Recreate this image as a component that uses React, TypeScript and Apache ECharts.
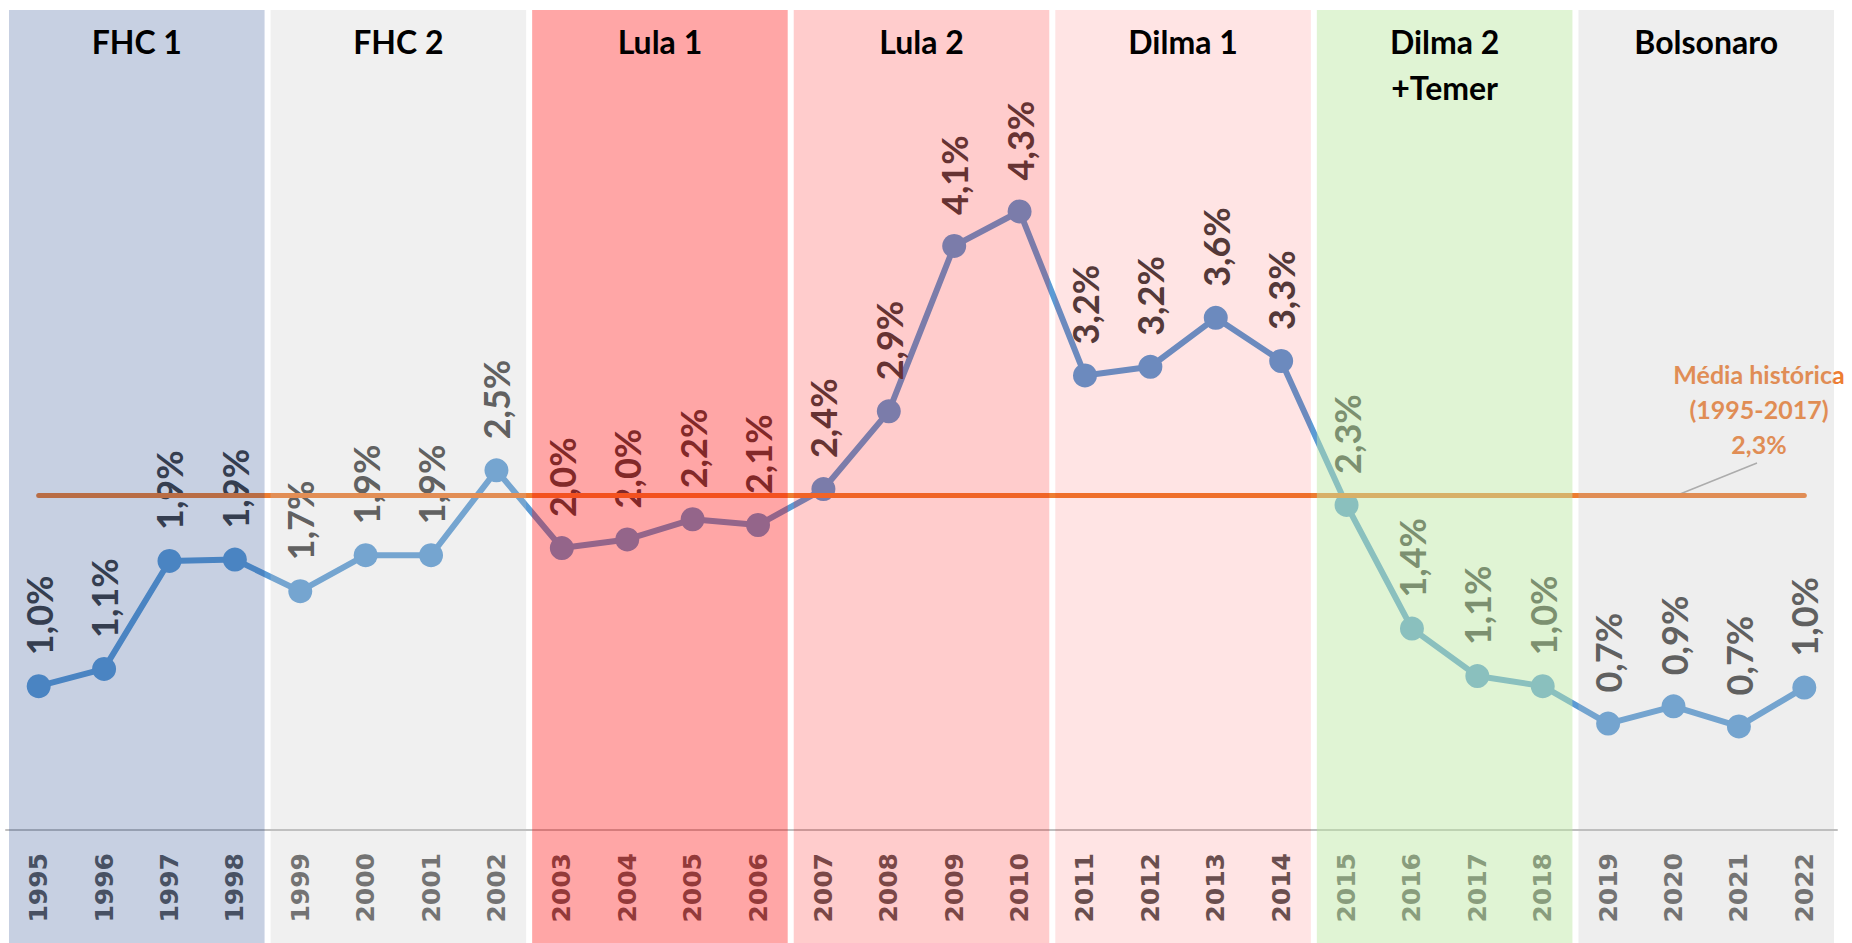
import React, { useEffect, useRef } from "react";
import * as echarts from "echarts";

const years = [
  "1995", "1996", "1997", "1998", "1999", "2000", "2001", "2002", "2003", "2004",
  "2005", "2006", "2007", "2008", "2009", "2010", "2011", "2012", "2013", "2014",
  "2015", "2016", "2017", "2018", "2019", "2020", "2021", "2022",
];
const growth = [
  1.0, 1.12, 1.87, 1.88, 1.66, 1.91, 1.91, 2.5, 1.96, 2.02,
  2.16, 2.12, 2.37, 2.91, 4.06, 4.3, 3.16, 3.22, 3.56, 3.26,
  2.26, 1.4, 1.07, 1.0, 0.74, 0.86, 0.72, 0.99,
];
const historicalMean = 2.33;
const meanLabel = "Média histórica\n(1995-2017)\n2,3%";
const terms = ["FHC 1", "FHC 2", "Lula 1", "Lula 2", "Dilma 1", "Dilma 2\n+Temer", "Bolsonaro"];
const termStart = [0, 4, 8, 12, 16, 20, 24];
const termEnd = [3, 7, 11, 15, 19, 23, 27];
const termColors = [
  "rgba(20,57,133,0.24)",
  "rgba(196,196,196,0.25)",
  "rgba(255,0,0,0.35)",
  "rgba(255,0,0,0.2)",
  "rgba(255,0,0,0.105)",
  "rgba(191,231,166,0.48)",
  "rgba(190,190,190,0.26)",
];

export default function App() {
  const ref = useRef<HTMLDivElement>(null);
  useEffect(() => {
    if (!ref.current) return;
    const chart = echarts.init(ref.current, null, { renderer: "svg" });
    const panelData = terms.map((_, i) => [termStart[i], termEnd[i], 0]);
    chart.setOption({
      animation: false,
      backgroundColor: "#ffffff",
      grid: { left: 6, right: 15, top: 10, bottom: 113, containLabel: false },
      xAxis: {
        type: "category",
        data: years,
        boundaryGap: true,
        axisTick: { show: false },
        axisLine: { lineStyle: { color: "#bfbfbf", width: 2 } },
        axisLabel: {
          rotate: 90,
          margin: 23,
          interval: 0,
          color: "#595959",
          fontFamily: "DejaVu Sans",
          fontWeight: "bold",
          fontSize: 25,
        },
      },
      yAxis: {
        type: "value",
        min: 0,
        max: 5.7,
        show: false,
        splitLine: { show: false },
      },
      graphic: {
        elements: [
          {
            type: "text",
            z: 1,
            x: 1759,
            y: 409,
            style: {
              text: meanLabel,
              fill: "#ed7d31",
              font: "bold 25px Lato",
              align: "center",
              verticalAlign: "middle",
              lineHeight: 35,
            },
          },
          {
            type: "line",
            z: 1,
            shape: { x1: 1757, y1: 463, x2: 1680, y2: 494 },
            style: { stroke: "#a6a6a6", lineWidth: 1.5 },
          },
        ],
      },
      series: [
        {
          type: "line",
          data: growth,
          z: 2,
          lineStyle: { color: "#5b9bd5", width: 6 },
          itemStyle: { color: "#5b9bd5" },
          symbol: "circle",
          symbolSize: 24,
          label: {
            show: true,
            position: "top",
            distance: 19,
            rotate: 90,
            align: "left",
            verticalAlign: "middle",
            color: "#404040",
            fontFamily: "Lato",
            fontWeight: "bold",
            fontSize: 36,
            formatter: (p: any) => p.value.toFixed(1).replace(".", ",") + "%",
          },
        },
        {
          type: "line",
          data: [],
          z: 3,
          markLine: {
            silent: true,
            symbol: ["none", "none"],
            label: { show: false },
            lineStyle: { color: "#ed7d31", width: 5, type: "solid", cap: "round" },
            data: [[{ coord: [years[0], historicalMean] }, { coord: [years[years.length - 1], historicalMean] }]],
          },
        },
        {
          type: "custom",
          z: 5,
          clip: false,
          silent: true,
          encode: { x: [0, 1], y: 2 },
          data: panelData,
          renderItem: (params: any, api: any) => {
            const s = api.value(0);
            const e = api.value(1);
            const idx = params.dataIndex;
            const band = api.size([1, 0])[0];
            const x0 = api.coord([s, 0])[0] - band / 2 + 3;
            const x1 = api.coord([e, 0])[0] + band / 2 - 3;
            return {
              type: "group",
              children: [
                {
                  type: "rect",
                  shape: { x: x0, y: 10, width: x1 - x0, height: 933 },
                  style: { fill: termColors[idx] },
                },
                {
                  type: "text",
                  x: (x0 + x1) / 2,
                  y: 18,
                  style: {
                    text: terms[idx],
                    fill: "#000000",
                    font: "bold 32px Lato",
                    align: "center",
                    verticalAlign: "top",
                    lineHeight: 46,
                  },
                },
              ],
            };
          },
        },
      ],
    });
    return () => chart.dispose();
  }, []);
  return (
    <div
      ref={ref}
      style={{ position: "fixed", left: 0, top: 0, width: "1852px", height: "943px" }}
    />
  );
}
